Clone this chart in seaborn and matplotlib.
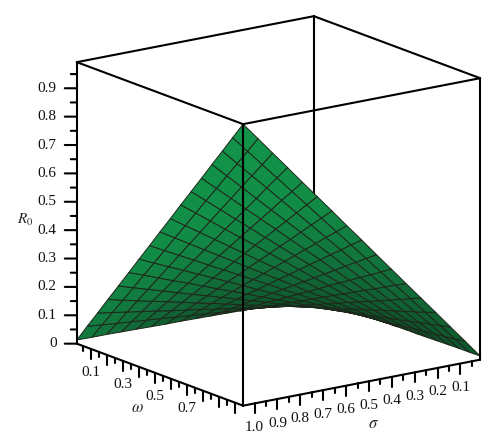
"""
R0 surface over omega and sigma, boxed 3D view
"""
import numpy as np
import matplotlib
matplotlib.use("Agg")
import matplotlib.pyplot as plt
from mpl_toolkits.mplot3d import proj3d
import seaborn as sns

# ================================================================================
# Values
# ================================================================================
omega_grid = [0.014, 0.079, 0.143, 0.208, 0.273, 0.338, 0.402, 0.467, 0.532,
              0.597, 0.662, 0.726, 0.791, 0.856, 0.921, 0.985, 1.05]
sigma_grid = [0.014, 0.079, 0.143, 0.208, 0.273, 0.338, 0.402, 0.467, 0.532,
              0.597, 0.662, 0.726, 0.791, 0.856, 0.921, 0.985, 1.05]

# One row per omega, one column per sigma
r0_values = [
    [.000, .001, .002, .003, .003, .004, .005, .006, .007, .008, .008, .009, .010, .011, .012, .012, .013],
    [.001, .006, .010, .015, .019, .024, .029, .033, .038, .042, .047, .052, .056, .061, .065, .070, .075],
    [.002, .010, .018, .027, .035, .043, .052, .060, .068, .077, .085, .093, .102, .110, .119, .127, .135],
    [.003, .015, .027, .039, .051, .063, .075, .087, .100, .112, .124, .136, .148, .160, .172, .184, .197],
    [.003, .019, .035, .051, .067, .083, .099, .115, .131, .147, .163, .178, .194, .210, .226, .242, .258],
    [.004, .024, .043, .063, .083, .103, .122, .142, .162, .182, .201, .221, .241, .260, .280, .300, .319],
    [.005, .029, .052, .075, .099, .122, .145, .169, .192, .216, .240, .263, .286, .310, .333, .356, .380],
    [.006, .033, .060, .087, .115, .142, .169, .196, .224, .251, .278, .305, .332, .360, .387, .414, .441],
    [.007, .038, .068, .100, .131, .162, .192, .224, .255, .286, .317, .348, .379, .410, .441, .472, .503],
    [.008, .042, .077, .112, .147, .182, .216, .251, .286, .321, .356, .390, .425, .460, .495, .529, .564],
    [.008, .047, .085, .124, .163, .201, .240, .278, .317, .356, .394, .433, .471, .510, .549, .587, .626],
    [.009, .052, .093, .136, .178, .221, .263, .305, .348, .390, .433, .474, .517, .559, .602, .644, .686],
    [.010, .056, .102, .148, .194, .241, .286, .332, .379, .425, .471, .517, .563, .609, .656, .701, .747],
    [.011, .061, .110, .160, .210, .260, .310, .360, .410, .460, .510, .559, .609, .659, .710, .759, .809],
    [.012, .065, .119, .172, .226, .280, .333, .387, .441, .495, .549, .602, .656, .710, .763, .816, .870],
    [.012, .070, .127, .184, .242, .300, .356, .414, .472, .529, .587, .644, .701, .759, .816, .873, .931],
    [.013, .075, .135, .197, .258, .319, .380, .441, .503, .564, .626, .686, .747, .809, .870, .931, .992],
]

r0_major     = [0, 0.1, 0.2, 0.3, 0.4, 0.5, 0.6, 0.7, 0.8, 0.9]
r0_minor     = [0.05, 0.15, 0.25, 0.35, 0.45, 0.55, 0.65, 0.75, 0.85, 0.95]
r0_labels    = ["0", "0.1", "0.2", "0.3", "0.4", "0.5", "0.6", "0.7", "0.8", "0.9"]
omega_major  = [0.1, 0.2, 0.3, 0.4, 0.5, 0.6, 0.7, 0.8, 0.9, 1.0]
omega_minor  = [0.05, 0.15, 0.25, 0.35, 0.45, 0.55, 0.65, 0.75, 0.85, 0.95]
omega_ticked = [0.1, 0.3, 0.5, 0.7]
omega_labels = ["0.1", "0.3", "0.5", "0.7"]
sigma_major  = [1.0, 0.9, 0.8, 0.7, 0.6, 0.5, 0.4, 0.3, 0.2, 0.1]
sigma_minor  = [0.95, 0.85, 0.75, 0.65, 0.55, 0.45, 0.35, 0.25, 0.15, 0.05]
sigma_labels = ["1.0", "0.9", "0.8", "0.7", "0.6", "0.5", "0.4", "0.3", "0.2", "0.1"]

# ================================================================================
# Figure and camera (x = sigma, y = omega)
# ================================================================================
sns.set_theme(style="white")
plt.rcParams["font.family"] = ["Liberation Serif", "DejaVu Serif"]
plt.rcParams["mathtext.fontset"] = "stix"

W, H = 500, 448
S    = 487  # axes side, pixels
fig  = plt.figure(figsize=(W / 100, H / 100), dpi=100, facecolor="white")
ax   = fig.add_axes([28.4 / W, -13 / H, S / W, S / H], projection="3d", proj_type="ortho")
ax.view_init(elev=15.6, azim=54.2)
ax.set_box_aspect((292, 284, 292))
ax.computed_zorder = False
ax.set_axis_off()

w_lo, w_hi = omega_grid[0], omega_grid[-1]
s_lo, s_hi = sigma_grid[0], sigma_grid[-1]
z_lo, z_hi = 0, r0_values[-1][-1]
ax.set_xlim(s_lo, s_hi)
ax.set_ylim(w_lo, w_hi)
ax.set_zlim(z_lo, z_hi)

# ================================================================================
# Surface
# ================================================================================
SIG, OM = np.meshgrid(sigma_grid, omega_grid)
Z       = np.array(r0_values)

# Shade runs dark at the back corner, mid at the right corner, bright at the front
cmap  = sns.blend_palette(["#082d1a", "#0d5029", "#116a38", "#118c46", "#12964a"], as_cmap=True)
shade = 0.35 * (OM - w_lo) / (w_hi - w_lo) + 0.65 * (SIG - s_lo) / (s_hi - s_lo)

ax.plot_surface(SIG, OM, Z, rcount=17, ccount=17, facecolors=cmap(shade), shade=False,
                edgecolor="#1f261a", linewidth=0.7, antialiased=True, zorder=2)

# ================================================================================
# Box, corners are (sigma, omega, R0)
# ================================================================================
BOX = dict(color="black", lw=1.5, solid_capstyle="round")

def edge(a, b, z=3):
    ax.plot([a[0], b[0]], [a[1], b[1]], [a[2], b[2]], zorder=z, **BOX)

left_b,  front_b = (s_hi, w_lo, z_lo), (s_hi, w_hi, z_lo)
right_b, back_b  = (s_lo, w_hi, z_lo), (s_lo, w_lo, z_lo)
left_t,  front_t = (s_hi, w_lo, z_hi), (s_hi, w_hi, z_hi)
right_t, back_t  = (s_lo, w_hi, z_hi), (s_lo, w_lo, z_hi)

edge(back_b, back_t, z=1)  # goes behind the surface
for a, b in [(left_b, front_b), (front_b, right_b), (left_b, left_t), (front_b, front_t),
             (right_b, right_t), (left_t, front_t), (front_t, right_t), (right_t, back_t),
             (back_t, left_t)]:
    edge(a, b)

# ================================================================================
# Ticks and tick labels
# ================================================================================
z_span = z_hi - z_lo
w_span = w_hi - w_lo
s_span = s_hi - s_lo

def px_down(px):
    # Straight down on screen is just a lower z
    return px / 281 * z_span

def px_left(px):
    # Straight left on screen, as (sigma, omega) shifts
    return 1.348 * px / 485 * s_span, -px / 485 * w_span

def put_label(x, y, z, text, ha="center"):
    # Project first so the text is a plain 2D artist
    x2, y2, _ = proj3d.proj_transform(x, y, z, ax.get_proj())
    ax.text2D(x2, y2, text, transform=ax.transData, fontsize=11, color="#111111",
              ha=ha, va="center", zorder=5)

for vals, length in [(r0_major, 12), (r0_minor, 6)]:
    ds, dw = px_left(length)
    for v in vals:
        edge((s_hi, w_lo, v), (s_hi + ds, w_lo + dw, v))
for vals, length in [(omega_major, 10), (omega_minor, 5)]:
    for v in vals:
        edge((s_hi, v, z_lo), (s_hi, v, z_lo - px_down(length)))
for vals, length in [(sigma_major, 10), (sigma_minor, 5)]:
    for v in vals:
        edge((v, w_hi, z_lo), (v, w_hi, z_lo - px_down(length)))

ds, dw = px_left(20)
for v, t in zip(r0_major, r0_labels):
    put_label(s_hi + ds, w_lo + dw, v, t, ha="right")
for v, t in zip(omega_ticked, omega_labels):
    put_label(s_hi, v, z_lo - px_down(24), t)
for v, t in zip(sigma_major, sigma_labels):
    put_label(v, w_hi, z_lo - px_down(24), t)

# Axis titles
fig.text(25 / W, 1 - 220 / H, r"$R_0$", fontsize=11, ha="center", va="center")
fig.text(137 / W, 1 - 408 / H, r"$\omega$", fontsize=12, ha="center", va="center")
fig.text(373 / W, 1 - 424 / H, r"$\sigma$", fontsize=12, ha="center", va="center")

fig.savefig("out.png", dpi=100, facecolor="white")
